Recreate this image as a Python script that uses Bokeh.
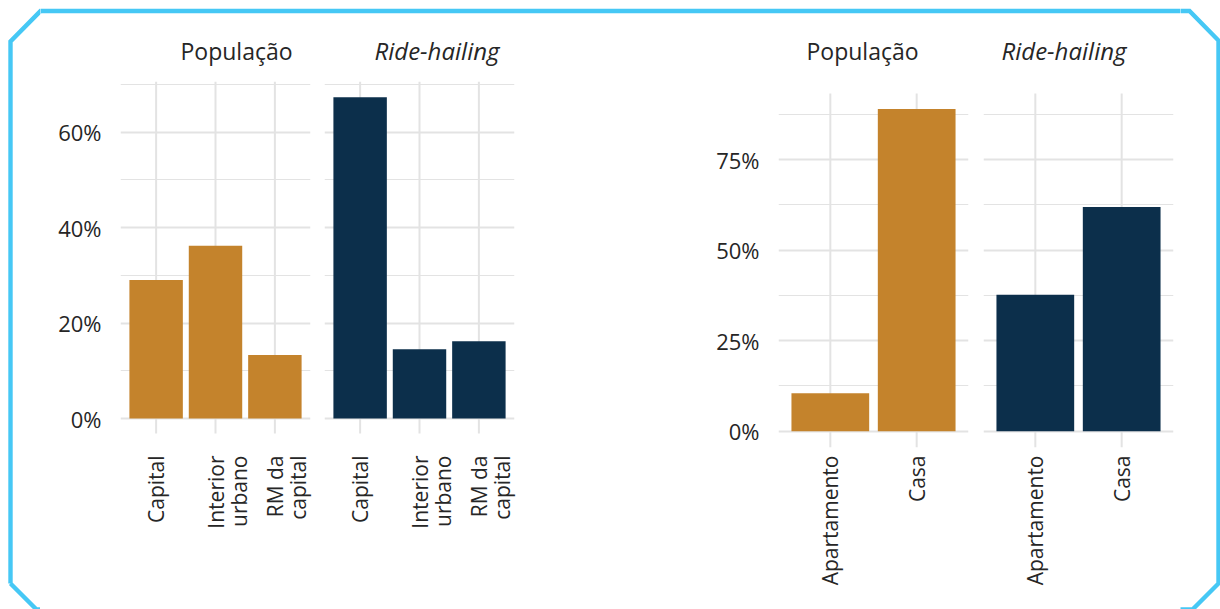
import math
from bokeh.plotting import figure
from bokeh.layouts import row, column
from bokeh.models import (Range1d, FixedTicker, NumeralTickFormatter,
                          ColumnDataSource)
from bokeh.embed import file_html
from bokeh.resources import INLINE

# ---------------- data ----------------
regions = ["Capital", "Interior\nurbano", "RM da\ncapital"]
pop_region = [0.290, 0.362, 0.133]
ride_region = [0.673, 0.145, 0.162]

housing = ["Apartamento", "Casa"]
pop_housing = [0.105, 0.890]
ride_housing = [0.377, 0.619]

panel_titles = ["População", "Ride-hailing"]
left_ticks = [0, 0.2, 0.4, 0.6]
left_minor = [0.1, 0.3, 0.5, 0.7]
right_ticks = [0, 0.25, 0.5, 0.75]
right_minor = [0.125, 0.375, 0.625, 0.875]

# ---------------- style / layout (page pixels) ----------------
GOLD = "#C4832C"
NAVY = "#0C2F4B"
GRID = "#E3E3E3"
TEXT = "#262626"
BORDER = "#46C8F5"
FONT = "Open Sans"
W, HT = 1220, 609
TOP_H = 16
PH = HT - TOP_H
FRAME_W = 190
PAD = 0.1                # padding on each side (category slot units)
FRAME_TOP, FRAME_BOTTOM = 81, 447
MBT, MBB = FRAME_TOP - TOP_H, HT - FRAME_BOTTOM
LABEL_STANDOFF = 8       # frame bottom -> upper end of rotated labels
LINE_STEP = 23.5         # px between the two lines of a two-line label

# each chart: pixel row of 0 %, pixels per 100 %, top / bottom of vertical grid
LEFT_SCALE = dict(zero=418.0, ppu=477.5, vtop=81.0, vbottom=433.0)
RIGHT_SCALE = dict(zero=430.7, ppu=362.0, vtop=93.0, vbottom=447.0)


def to_data(px, sc):
    return (sc["zero"] - px) / sc["ppu"]


def panel(categories, values, color, sc, ticks, minor, title, italic, show_y,
          mbl, mbr, title_offset):
    n = len(categories)
    slots = [i + 0.5 for i in range(n)]      # centre of each category slot
    w = mbl + FRAME_W + mbr
    yr = (to_data(FRAME_BOTTOM, sc), to_data(FRAME_TOP, sc))
    p = figure(width=w, height=PH, x_range=Range1d(-PAD, n + PAD),
               y_range=Range1d(*yr), output_backend="svg",
               toolbar_location=None, min_border_left=mbl,
               min_border_right=mbr, min_border_top=MBT,
               min_border_bottom=MBB, title=title)
    p.outline_line_color = None
    p.xgrid.visible = False

    # vertical guide lines (grid + tick look) at each category
    p.segment(x0=slots, x1=slots, y0=[to_data(sc["vbottom"], sc)] * n,
              y1=[to_data(sc["vtop"], sc)] * n, line_color=GRID, line_width=2)

    src = ColumnDataSource(dict(x=slots, top=values, cat=categories))
    p.vbar(x="x", top="top", width=0.9, source=src, fill_color=color,
           line_color=None)

    # category labels on the x axis, one tick per text line
    step = LINE_STEP * (n + 2 * PAD) / FRAME_W
    pos, txt = [], []
    for s, cat in zip(slots, categories):
        for k, line in enumerate(cat.split("\n")):
            pos.append(round(s + k * step, 6))
            txt.append(line)
    xa = p.xaxis[0]
    xa.ticker = FixedTicker(ticks=pos, minor_ticks=[])
    xa.major_label_overrides = dict(zip(pos, txt))
    xa.major_label_orientation = math.pi / 2
    xa.axis_line_color = None
    xa.major_tick_line_color = None
    xa.minor_tick_line_color = None
    xa.major_tick_out = 0
    xa.major_tick_in = 0
    xa.minor_tick_out = 0
    xa.minor_tick_in = 0
    xa.major_label_standoff = LABEL_STANDOFF
    xa.major_label_text_font = FONT
    xa.major_label_text_font_size = "21px"
    xa.major_label_text_color = TEXT

    # title
    p.title.text_font = FONT
    p.title.text_font_size = "24px" if italic else "23px"
    p.title.text_font_style = "italic" if italic else "normal"
    p.title.text_color = TEXT
    p.title.align = "left"
    p.title.offset = title_offset
    p.title.standoff = 30

    ticker = FixedTicker(ticks=ticks, minor_ticks=minor)
    ya = p.yaxis[0]
    ya.ticker = ticker
    p.ygrid.ticker = ticker
    if show_y:
        ya.formatter = NumeralTickFormatter(format="0%")
        ya.axis_line_color = None
        ya.major_tick_line_color = None
        ya.minor_tick_line_color = None
        ya.major_label_standoff = 13
        ya.major_label_text_font = FONT
        ya.major_label_text_font_size = "22px"
        ya.major_label_text_color = TEXT
    else:
        ya.visible = False
    p.ygrid.grid_line_color = GRID
    p.ygrid.grid_line_width = 1.8
    p.ygrid.minor_grid_line_color = GRID
    p.ygrid.minor_grid_line_width = 1.2
    return p


lp1 = panel(regions, pop_region, GOLD, LEFT_SCALE, left_ticks, left_minor,
            panel_titles[0], False, True, 80, 7, 60)
lp2 = panel(regions, ride_region, NAVY, LEFT_SCALE, left_ticks, left_minor,
            panel_titles[1], True, False, 7, 184, 50)
rp1 = panel(housing, pop_housing, GOLD, RIGHT_SCALE, right_ticks, right_minor,
            panel_titles[0], False, True, 80, 7, 28)
rp2 = panel(housing, ride_housing, NAVY, RIGHT_SCALE, right_ticks, right_minor,
            panel_titles[1], True, False, 8, 7, 18)

# ---------------- decorative frame (page pixel coordinates) ----------------
frame_x = [10, 10, 40, 1189, 1218, 1218, 1192, 36, 10]
frame_y = [583, 41, 10.5, 10.5, 40, 583, 609, 609, 583]


def strip(x0, x1, y0, y1):
    s = figure(width=int(x1 - x0), height=int(y1 - y0),
               x_range=Range1d(x0, x1), y_range=Range1d(y1, y0),
               output_backend="svg", toolbar_location=None, min_border=0)
    s.axis.visible = False
    s.grid.visible = False
    s.outline_line_color = None
    s.line(frame_x, frame_y, line_width=4.4, line_color=BORDER,
           line_join="miter")
    return s


left = strip(0, 40, 0, HT)
right = strip(1180, W, 0, HT)
top = strip(40, 1180, 0, TOP_H)

layout = row(left, column(top, row(lp1, lp2, rp1, rp2)), right)

open("out.html", "w").write(file_html(layout, INLINE))
